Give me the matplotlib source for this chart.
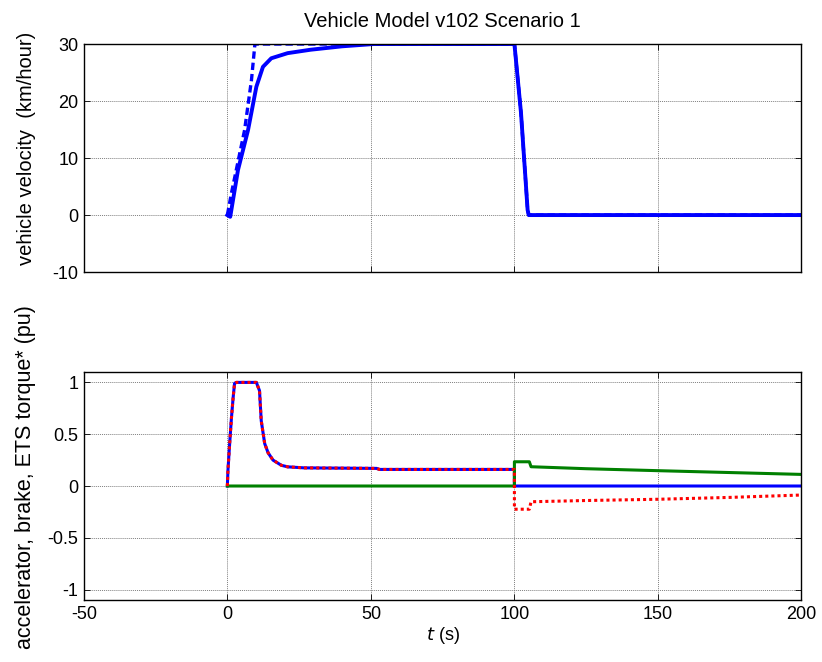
import matplotlib
matplotlib.use("Agg")
import matplotlib.pyplot as plt

plt.rcParams['font.family'] = ['Liberation Sans', 'DejaVu Sans']
plt.rcParams['font.size'] = 13
plt.rcParams['axes.unicode_minus'] = False

# vehicle velocity (km/hour), solid = actual, dashed = reference
t_vel = [0, 1, 3.7, 7.2, 10.1, 12.4, 15.3, 21, 29, 40, 51, 100, 102.3, 104.6, 105, 200]
vel = [0, -0.3, 7.9, 14.9, 22.5, 26, 27.5, 28.4, 29, 29.6, 30, 30, 17.9, 0.9, 0, 0]
t_ref = [0, 1.4, 6, 8.4, 9.6, 100, 102.3, 104.6, 105, 200]
vel_ref = [0, 3.8, 14.9, 23.7, 30, 30, 17.9, 0.9, 0, 0]

# accelerator / ETS torque (identical up to t=100)
t_acc = [0, 0.2, 0.8, 1.4, 2, 2.5, 3.1, 10.1, 11.2, 11.8, 13, 14.2, 15.9, 18.8, 21, 26.8, 52, 53, 100, 100, 200]
acc = [0, 0.15, 0.41, 0.65, 0.85, 0.99, 1.0, 1.0, 0.92, 0.63, 0.41, 0.32, 0.25, 0.2, 0.185, 0.175, 0.17, 0.16, 0.16, 0, 0]
t_ets = t_acc[:-2] + [100, 105.2, 105.8, 125, 150, 175, 200]
ets = acc[:-2] + [-0.224, -0.224, -0.152, -0.14, -0.128, -0.11, -0.087]

# brake
t_brk = [0, 100, 100, 105.2, 105.8, 125, 150, 175, 200]
brk = [0, 0, 0.234, 0.234, 0.186, 0.167, 0.148, 0.13, 0.112]

fig = plt.figure(figsize=(8.22, 6.62), dpi=100)
ax1 = fig.add_axes([0.102, 0.589, 0.873, 0.3445])
ax2 = fig.add_axes([0.102, 0.0937, 0.873, 0.3443])

ax1.plot(t_vel, vel, color='#0000ff', lw=2.8)
ax1.plot(t_ref, vel_ref, color='#0000ff', lw=2.4, ls='--', dashes=(2.2, 1.2))
ax1.set_xlim(-50, 200)
ax1.set_ylim(-10, 30)
ax1.set_yticks([-10, 0, 10, 20, 30])
ax1.set_xticks([-50, 0, 50, 100, 150, 200])
ax1.tick_params(labelbottom=False)
ax1.set_ylabel('vehicle velocity  (km/hour)', fontsize=14.5)
ax1.set_title('Vehicle Model v102 Scenario 1', fontsize=14.5, pad=12)

ax2.plot(t_acc, acc, color='#0000ff', lw=2.2)
ax2.plot(t_brk, brk, color='#008000', lw=2.2)
ax2.plot(t_ets, ets, color='#ff0000', lw=2.2, ls=':', dashes=(1, 1))
ax2.set_xlim(-50, 200)
ax2.set_ylim(-1.1, 1.1)
ax2.set_yticks([-1, -0.5, 0, 0.5, 1])
ax2.set_yticklabels(['-1', '-0.5', '0', '0.5', '1'])
ax2.set_xticks([-50, 0, 50, 100, 150, 200])
ax2.set_xlabel('$t$ (s)', labelpad=2)
ax2.set_ylabel('accelerator, brake, ETS torque* (pu)', fontsize=15.5)

for ax in (ax1, ax2):
    ax.grid(True, color='#808080', lw=0.7, ls=(0, (1, 1)))
    ax.tick_params(direction='in', top=True, right=True, length=4, width=0.6, pad=4)
    for s in ax.spines.values():
        s.set_linewidth(1.0)

ax1.yaxis.set_label_coords(-0.066, 0.544)
ax2.yaxis.set_label_coords(-0.066, 0.539)

fig.savefig('out.png', dpi=100)
